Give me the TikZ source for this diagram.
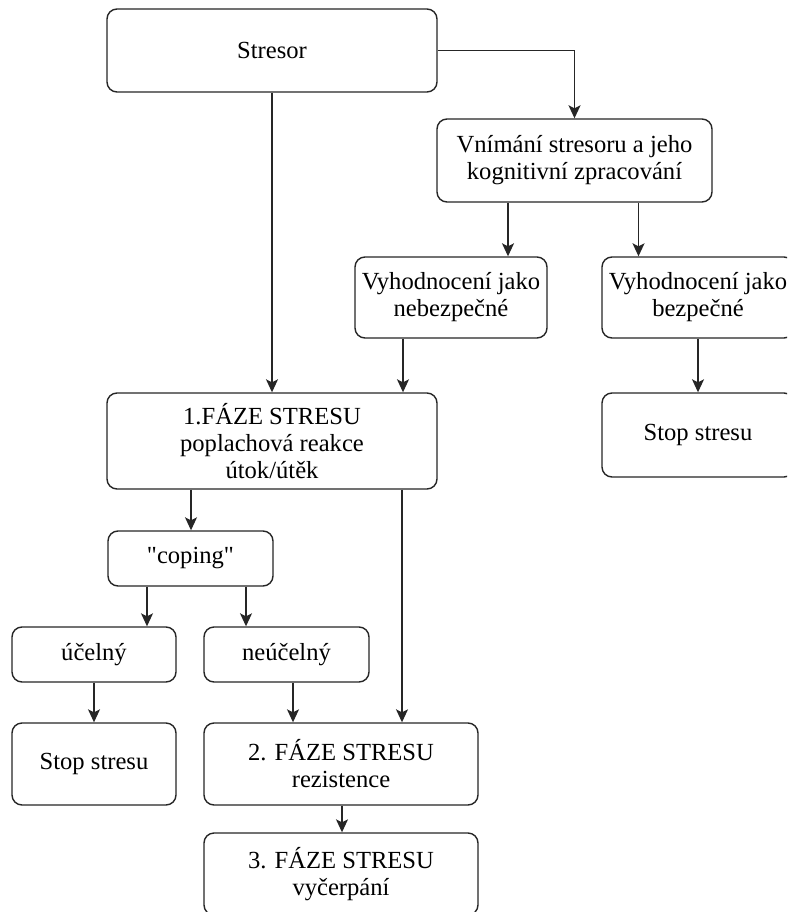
\documentclass[tikz,border=0pt]{standalone}
\usepackage{fontspec}
\setmainfont{Liberation Serif}
\usetikzlibrary{arrows.meta}
\usetikzlibrary{positioning}
\tikzstyle{stage}=[draw=black!85,fill=white,rounded corners=10pt,line width=1.4pt,align=center,inner sep=2pt,font=\fontsize{24.6}{27}\selectfont]
\tikzstyle{arr}=[draw=black!85,line width=1.4pt,-{Stealth[length=13pt,width=12pt,inset=3pt]}]

\begin{document}
\begin{tikzpicture}[
  x=1pt,y=-1pt,
  wide box/.style={stage,minimum width=330pt,minimum height=83pt},
  mid box/.style={stage,minimum width=275pt,minimum height=82pt},
  eval box/.style={stage,minimum width=192pt,minimum height=81pt},
  small box/.style={stage,minimum width=164pt,minimum height=55pt},
]
\useasboundingbox (0,0) rectangle (787,912);
\clip (0,0) rectangle (787,912);
  % top row
  \node[wide box] (stresor) at (272,50.5) {Stresor};
  \node[mid box,minimum height=83pt] (vnimani) at (574.5,160.5) {Vnímání stresoru a jeho\\kognitivní zpracování};
  \node[eval box] (nebezp) at (451,297.5) {Vyhodnocení jako\\nebezpečné};
  \node[eval box] (bezp) at (698,297.5) {Vyhodnocení jako\\bezpečné};
  \node[eval box,minimum height=84pt] (stopR) at (698,435) {Stop stresu};
  % phases
  \node[wide box,minimum height=96pt] (faze1) at (272,441) {1.FÁZE STRESU\\poplachová reakce\\útok/útěk};
  \node[small box,minimum width=165pt] (coping) at (190.5,558.5) {\textquotedbl coping\textquotedbl};
  \node[small box] (ucelny) at (94,654.5) {účelný};
  \node[small box,minimum width=165pt] (neucelny) at (286.5,654.5) {neúčelný};
  \node[small box,minimum height=82pt] (stopL) at (94,764) {Stop stresu};
  \node[mid box,minimum width=274pt] (faze2) at (341,764) {2. FÁZE STRESU\\rezistence};
  \node[mid box,minimum width=274pt] (faze3) at (341,874) {3. FÁZE STRESU\\vyčerpání};

  \draw[arr] (stresor.east) -| (vnimani.north);
  \draw[arr] (stresor) -- (faze1);
  \draw[arr] ([xshift=-66.5pt]vnimani.south) -- ([xshift=-66.5pt]vnimani.south |- nebezp.north);
  \draw[arr] ([xshift=64pt]vnimani.south) -- ([xshift=64pt]vnimani.south |- bezp.north);
  \draw[arr] ([xshift=-48pt]nebezp.south) -- ([xshift=-48pt]nebezp.south |- faze1.north);
  \draw[arr] (bezp) -- (stopR);
  \draw[arr] ([xshift=-81pt]faze1.south) -- ([xshift=-81pt]faze1.south |- coping.north);
  \draw[arr] ([xshift=130pt]faze1.south) -- ([xshift=130pt]faze1.south |- faze2.north);
  \draw[arr] ([xshift=-43.5pt]coping.south) -- ([xshift=-43.5pt]coping.south |- ucelny.north);
  \draw[arr] ([xshift=55.5pt]coping.south) -- ([xshift=55.5pt]coping.south |- neucelny.north);
  \draw[arr] (ucelny) -- (stopL);
  \draw[arr] ([xshift=6.5pt]neucelny.south) -- ([xshift=6.5pt]neucelny.south |- faze2.north);
  \draw[arr] ([xshift=1pt]faze2.south) -- ([xshift=1pt]faze2.south |- faze3.north);
\end{tikzpicture}
\end{document}
